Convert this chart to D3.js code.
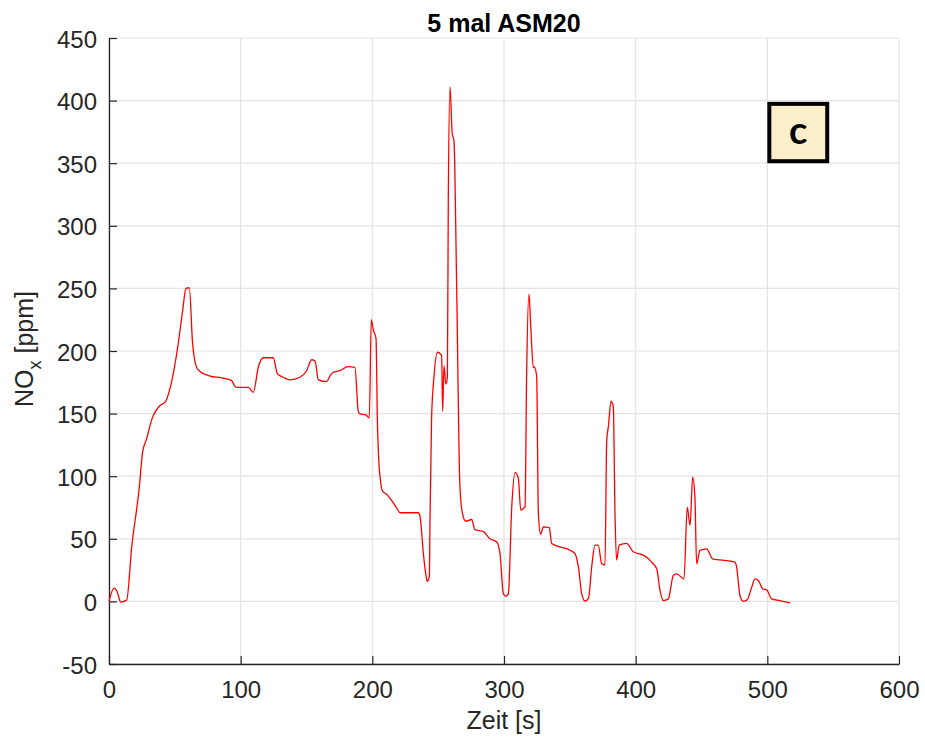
<!DOCTYPE html>
<html><head><meta charset="utf-8">
<script src="https://cdn.jsdelivr.net/npm/d3@7"></script>
<style>
body{margin:0;background:#fff;}
text{font-family:"Liberation Sans",Arial,sans-serif;}
</style></head>
<body><svg id="c" width="925" height="746"></svg>
<script>
const title = "5 mal ASM20";
const xLabel = "Zeit [s]";
const xTicks = [0,100,200,300,400,500,600];
const yTicks = [-50,0,50,100,150,200,250,300,350,400,450];
const panelLabel = "c";
const timeS = [0,3.8,6.3,8.9,13.4,17.2,23,25.5,28.6,32.4,38.7,42.5,46.3,48.8,52.6,55.9,58.5,61,63.5,67,71.6,76.7,85.5,93,96.4,105.8,109.6,113.4,117.2,124.8,127.8,132.4,137.5,145,150,153.9,156.5,159,165.3,167.8,170.3,175.4,181.7,186.8,189.3,190.6,195,197.7,199.2,200.7,202.8,203.8,205,207.8,210.8,218.4,220.9,234.9,236.2,238.7,240.7,241.7,243.3,243.8,245,246.8,249.4,252.6,253.4,254.4,255.9,257,257.7,259,260.7,262,264,266.5,268.6,271,275.4,277.9,284.2,289.3,294.4,297,299.5,301.5,303.3,305.9,308.4,310.9,312.7,316,317.2,319,320.3,322.3,323,324.8,326.1,327.8,329.9,334.4,336.2,342.5,350.1,353.9,356.5,359,361.5,364.1,366.6,369.1,371.6,374.2,376.7,378,379.3,381.3,383,384.3,385.5,387.5,393.1,398.2,405.8,410.8,412.2,416,418.5,421,424.8,428.6,431.2,436.7,439.2,441.3,443.3,445,446.3,448.8,453.9,458.4,464,475.4,476.7,479.2,481.7,484.7,488.1,490.6,493.2,496.5,499.5,503.3,509.6,517.2];
const noxPpm = [0,10.6,7.4,-0.5,1,43,91,119,130,145,156.5,159,170,182,206,232,250,250.5,206,186,182,180,178.5,176.5,171,171,167,187,194.6,194.6,182,179,177,179,184,193,192,177,175.5,180,183,184.3,187.5,187,152,149.7,149,146.5,225,217,210,146.5,111,88,85.6,74.8,70.8,70.8,68,39,21,16,20,65,146.5,179,199,196.5,152,188,173.5,179,322,411,373.5,368,254.6,92.4,69.4,64,65.4,57.3,55.9,50,47.6,38,6.2,4,6,75.7,103,98.4,73,75.7,182.6,245.5,220,186.6,187.4,180,70.3,53.7,59.6,59,46.3,43.6,40.9,38.2,27.5,6.2,0.3,2.2,27.5,45,45,30,29,128,140,160,156,70.3,33,45,46.3,39.6,37,33,31.3,26,8.7,0.7,2,20.7,22,18,75.3,60.7,99.3,83.3,30,40.7,42,34,33.2,31.3,27.3,4.7,0.1,1.2,11.3,18,16.7,10,9.2,2,0.7,-1.2];

const svg = d3.select("#c");
const m = {l:109, r:899, t:38, b:664};
const x = d3.scaleLinear().domain([0,600]).range([m.l,m.r]);
const y = d3.scaleLinear().domain([-50,450]).range([m.b,m.t]);

// grid
const g = svg.append("g");
g.selectAll("line.gx").data(xTicks).enter().append("line")
 .attr("x1",d=>x(d)).attr("x2",d=>x(d)).attr("y1",m.t).attr("y2",m.b)
 .attr("stroke","#e3e3e3").attr("stroke-width",1.2);
g.selectAll("line.gy").data(yTicks).enter().append("line")
 .attr("y1",d=>y(d)).attr("y2",d=>y(d)).attr("x1",m.l).attr("x2",m.r)
 .attr("stroke","#e3e3e3").attr("stroke-width",1.2);

// axes
const fmt = d => String(d);
const xa = svg.append("g").attr("transform",`translate(0,${m.b})`)
 .call(d3.axisBottom(x).tickValues(xTicks).tickFormat(fmt).tickSizeInner(-8).tickSizeOuter(0));
const ya = svg.append("g").attr("transform",`translate(${m.l},0)`)
 .call(d3.axisLeft(y).tickValues(yTicks).tickFormat(fmt).tickSizeInner(-8).tickSizeOuter(0));
[xa,ya].forEach(a=>{
  a.select(".domain").attr("stroke","#262626").attr("stroke-width",1.3);
  a.selectAll(".tick line").attr("stroke","#262626").attr("stroke-width",1.2);
  a.selectAll(".tick text").attr("fill","#262626").style("font-size","24px")
   .style("font-family",'"Liberation Sans",Arial,sans-serif');
});
xa.selectAll(".tick text").attr("y",34).attr("dy","0");
ya.selectAll(".tick text").attr("x",-12).attr("dy","0.38em");

// line
svg.append("path").datum(timeS.map((t,i)=>[t,noxPpm[i]]))
 .attr("fill","none").attr("stroke","#ff0000").attr("stroke-width",1.3)
 .attr("stroke-linejoin","round")
 .attr("d",d3.line().curve(d3.curveMonotoneX).x(d=>x(d[0])).y(d=>y(d[1])));

// title
svg.append("text").attr("x",(m.l+m.r)/2).attr("y",32).attr("text-anchor","middle")
 .style("font-size","25px").style("font-weight","bold").attr("fill","#000").text(title);
// x label
svg.append("text").attr("x",(m.l+m.r)/2).attr("y",729).attr("text-anchor","middle")
 .style("font-size","25px").attr("fill","#262626").text(xLabel);
// y label
const yl = svg.append("text").attr("transform",`translate(33,${(m.t+m.b)/2 - 2}) rotate(-90)`)
 .attr("text-anchor","middle").style("font-size","25px").attr("fill","#262626");
yl.append("tspan").text("NO");
yl.append("tspan").attr("dy",8).style("font-size","18px").text("x");
yl.append("tspan").attr("dy",-8).text(" [ppm]");

// panel label box
const bx0 = x(500), bx1 = x(547), by0 = y(399), by1 = y(350);
svg.append("rect").attr("x",bx0+2).attr("y",by0+2).attr("width",bx1-bx0-4).attr("height",by1-by0-4)
 .attr("fill","#fbefcb").attr("stroke","#000").attr("stroke-width",4);
svg.append("text").attr("x",(bx0+bx1)/2).attr("y",(by0+by1)/2+11).attr("text-anchor","middle")
 .style("font-family",'Lato,"Open Sans",sans-serif').style("font-weight","bold").style("font-size","38px")
 .attr("fill","#000").text(panelLabel);
</script></body></html>
